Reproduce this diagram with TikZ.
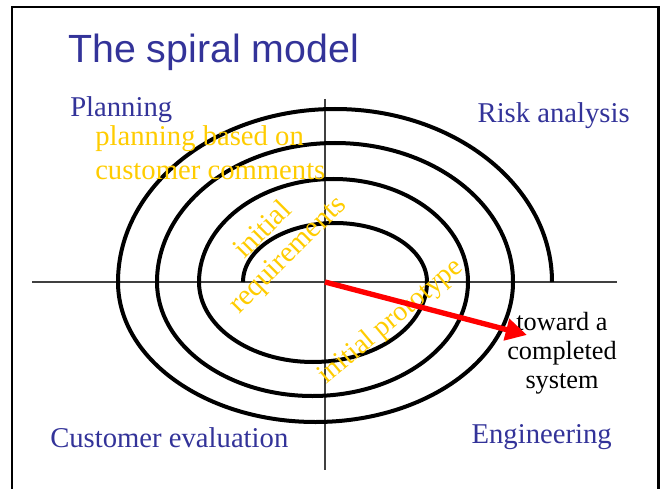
\documentclass[tikz,border=0pt]{standalone}
\usepackage{fontspec}
\setmainfont{Liberation Serif}
\newfontfamily\titlefont{Liberation Sans}
\usetikzlibrary{arrows.meta}
\definecolor{slideblue}{RGB}{51,51,153}
\definecolor{noteyellow}{RGB}{255,204,0}

\begin{document}
\begin{tikzpicture}[x=0.75pt,y=0.75pt,yscale=-1,xscale=1,
	quadrant/.style={text=slideblue,inner sep=0pt,font=\fontsize{21.5}{25}\selectfont},
	note/.style={text=noteyellow,inner sep=0pt,align=center,font=\fontsize{21.5}{25.5}\selectfont}]
	\useasboundingbox (0,0) rectangle (666,488);
	\clip (0,0) rectangle (666,488);
	
	%Shape: Rectangle [frame]
	\draw  [line width=1.9pt]  (12,7) rectangle (658.5,500) ;
	%Straight Lines [axes]
	\draw  [color=black!75,line width=0.8pt]  (32,282) -- (617,282) ;
	\draw  [color=black!75,line width=0.8pt]  (325,99) -- (325,470) ;
	%Curve Lines [spiral]
	\draw  [line width=3pt]  (243,282) arc [start angle=180,end angle=360,x radius=92,y radius=59]
		arc [start angle=0,end angle=180,x radius=114,y radius=80]
		arc [start angle=180,end angle=360,x radius=134.5,y radius=103]
		arc [start angle=0,end angle=180,x radius=155.5,y radius=114]
		arc [start angle=180,end angle=360,x radius=178,y radius=139]
		arc [start angle=0,end angle=180,x radius=197.5,y radius=140]
		arc [start angle=180,end angle=360,x radius=217,y radius=173] ;
	
	% Text Node
	\node [anchor=base west,inner sep=0pt,text=slideblue,font=\titlefont\fontsize{29.5}{36}\selectfont] (title) at (68,63) {The spiral model};
	% Text Node
	\node [quadrant,anchor=base west] (planning) at (70,117) {Planning};
	% Text Node
	\node [quadrant,anchor=base east] (risk) at (630,123) {Risk analysis};
	% Text Node
	\node [quadrant,anchor=base west] (custeval) at (50,447) {Customer evaluation};
	% Text Node
	\node [quadrant,anchor=base east] (engineering) at (612,443) {Engineering};
	% Text Node
	\node [note,align=left,anchor=base west] (plannote) at (95,180) {planning based on\\customer comments};
	% Text Node
	\node [note,rotate=45,font=\fontsize{22}{26}\selectfont] (reqnote) at (276,243) {initial\\requirements};
	% Text Node
	\node [note,rotate=40,font=\fontsize{21}{25}\selectfont] (protonote) at (391,322) {initial prototype};
	% Text Node
	\node [inner sep=0pt,align=center,font=\fontsize{19.7}{21.75}\selectfont] (toward) at (562,353) {toward a\\completed\\system};
	
	%Straight Lines [arrow]
	\coordinate (origin) at (325,282);
	\coordinate (arrowtip) at (527,335);
	\draw  [color=red,line width=4pt,-{Triangle[length=16pt,width=16pt]}]  (origin) -- (arrowtip) ;
	
\end{tikzpicture}
\end{document}
